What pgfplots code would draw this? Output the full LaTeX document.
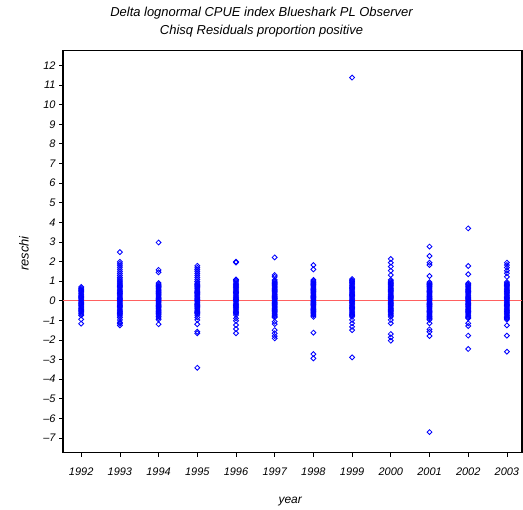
\documentclass[border=0pt]{standalone}
\usepackage{fontspec}
\setmainfont{Liberation Sans}
\usepackage{pgfplots}
\pgfplotsset{compat=1.18}
\definecolor{ptblue}{RGB}{0,0,255}
\definecolor{refred}{RGB}{255,96,96}
\begin{document}
\begin{tikzpicture}
\begin{axis}[
  scale only axis, width=459bp, height=402bp,
  at={(0,0)}, anchor=south west,
  xmin=1991.53, xmax=2003.39, ymin=-7.75, ymax=12.75,
  axis line style={line width=1.2bp},
  tick style={line width=0.7bp, black},
  tick align=outside, major tick length=4bp,
  xtick pos=lower, ytick pos=left,
  xtick={1992,1993,1994,1995,1996,1997,1998,1999,2000,2001,2002,2003},
  xticklabels={1992,1993,1994,1995,1996,1997,1998,1999,2000,2001,2002,2003},
  ytick={-7,-6,-5,-4,-3,-2,-1,0,1,2,3,4,5,6,7,8,9,10,11,12},
  yticklabels={–7,–6,–5,–4,–3,–2,–1,0,1,2,3,4,5,6,7,8,9,10,11,12},
  ticklabel style={font=\fontsize{11}{13}\selectfont\itshape},
  xticklabel style={yshift=-8bp},
  xlabel={year}, ylabel={reschi},
  xlabel style={font=\fontsize{12}{14}\selectfont\itshape, at={(axis description cs:0.495,-0.122)}, anchor=center},
  ylabel style={font=\fontsize{13}{15}\selectfont\itshape, at={(axis description cs:-0.085,0.495)}, anchor=center},
  clip=false,
]
\addplot[refred, line width=1bp, no marks] coordinates {(1991.53,0) (2003.39,0)};
\addplot[only marks, mark=square, mark size=1.75pt, mark options={rotate=45, ptblue, line width=0.85bp, fill=none}] coordinates {
(1992,0.70)(1992,0.64)(1992,0.58)(1992,0.52)(1992,0.46)(1992,0.40)(1992,0.34)(1992,0.28)(1992,0.22)(1992,0.16)(1992,0.10)(1992,0.04)(1992,-0.02)(1992,-0.08)(1992,-0.14)(1992,-0.20)(1992,-0.26)(1992,-0.32)(1992,-0.38)(1992,-0.44)(1992,-0.50)(1992,-0.56)(1992,-0.62)(1992,-0.68)(1992,-0.75)(1992,-0.95)(1992,-1.17)
(1993,2.48)(1993,1.98)(1993,1.88)(1993,1.78)(1993,1.68)(1993,1.58)(1993,1.48)(1993,1.38)(1993,1.28)(1993,1.18)(1993,1.10)(1993,1.02)(1993,0.96)(1993,0.90)(1993,0.84)(1993,0.78)(1993,0.72)(1993,0.66)(1993,0.60)(1993,0.54)(1993,0.48)(1993,0.42)(1993,0.36)(1993,0.30)(1993,0.24)(1993,0.18)(1993,0.12)(1993,0.06)(1993,0)(1993,-0.06)(1993,-0.12)(1993,-0.18)(1993,-0.24)(1993,-0.30)(1993,-0.36)(1993,-0.42)(1993,-0.48)(1993,-0.54)(1993,-0.60)(1993,-0.66)(1993,-0.72)(1993,-0.78)(1993,-0.86)(1993,-0.98)(1993,-1.10)(1993,-1.17)(1993,-1.26)
(1994,2.97)(1994,1.57)(1994,1.45)(1994,0.90)(1994,0.84)(1994,0.78)(1994,0.72)(1994,0.66)(1994,0.60)(1994,0.54)(1994,0.48)(1994,0.42)(1994,0.36)(1994,0.30)(1994,0.24)(1994,0.18)(1994,0.12)(1994,0.06)(1994,0)(1994,-0.06)(1994,-0.12)(1994,-0.18)(1994,-0.24)(1994,-0.30)(1994,-0.36)(1994,-0.42)(1994,-0.48)(1994,-0.54)(1994,-0.60)(1994,-0.66)(1994,-0.72)(1994,-0.80)(1994,-0.88)(1994,-0.96)(1994,-1.20)
(1995,1.78)(1995,1.68)(1995,1.58)(1995,1.48)(1995,1.38)(1995,1.28)(1995,1.18)(1995,1.08)(1995,0.98)(1995,0.90)(1995,0.84)(1995,0.78)(1995,0.72)(1995,0.66)(1995,0.60)(1995,0.54)(1995,0.48)(1995,0.42)(1995,0.36)(1995,0.30)(1995,0.24)(1995,0.18)(1995,0.12)(1995,0.06)(1995,0)(1995,-0.06)(1995,-0.12)(1995,-0.18)(1995,-0.24)(1995,-0.30)(1995,-0.36)(1995,-0.42)(1995,-0.48)(1995,-0.54)(1995,-0.60)(1995,-0.66)(1995,-0.73)(1995,-0.85)(1995,-0.98)(1995,-1.20)(1995,-1.58)(1995,-1.66)(1995,-3.42)
(1996,1.99)(1996,1.95)(1996,1.08)(1996,1.02)(1996,0.96)(1996,0.90)(1996,0.84)(1996,0.78)(1996,0.72)(1996,0.66)(1996,0.60)(1996,0.54)(1996,0.48)(1996,0.42)(1996,0.36)(1996,0.30)(1996,0.24)(1996,0.18)(1996,0.12)(1996,0.06)(1996,0)(1996,-0.06)(1996,-0.12)(1996,-0.18)(1996,-0.24)(1996,-0.30)(1996,-0.36)(1996,-0.42)(1996,-0.48)(1996,-0.54)(1996,-0.60)(1996,-0.66)(1996,-0.73)(1996,-0.90)(1996,-1.02)(1996,-1.24)(1996,-1.44)(1996,-1.66)
(1997,2.21)(1997,1.31)(1997,1.22)(1997,1.06)(1997,1.00)(1997,0.94)(1997,0.88)(1997,0.82)(1997,0.76)(1997,0.70)(1997,0.64)(1997,0.58)(1997,0.52)(1997,0.46)(1997,0.40)(1997,0.34)(1997,0.28)(1997,0.22)(1997,0.16)(1997,0.10)(1997,0.04)(1997,-0.02)(1997,-0.08)(1997,-0.14)(1997,-0.20)(1997,-0.26)(1997,-0.32)(1997,-0.38)(1997,-0.44)(1997,-0.50)(1997,-0.56)(1997,-0.62)(1997,-0.68)(1997,-0.74)(1997,-0.80)(1997,-0.85)(1997,-1.07)(1997,-1.19)(1997,-1.50)(1997,-1.66)(1997,-1.80)(1997,-1.92)
(1998,1.82)(1998,1.60)(1998,1.06)(1998,1.00)(1998,0.94)(1998,0.88)(1998,0.82)(1998,0.76)(1998,0.70)(1998,0.64)(1998,0.58)(1998,0.52)(1998,0.46)(1998,0.40)(1998,0.34)(1998,0.28)(1998,0.22)(1998,0.16)(1998,0.10)(1998,0.04)(1998,-0.02)(1998,-0.08)(1998,-0.14)(1998,-0.20)(1998,-0.26)(1998,-0.32)(1998,-0.38)(1998,-0.44)(1998,-0.50)(1998,-0.56)(1998,-0.62)(1998,-0.68)(1998,-0.74)(1998,-0.82)(1998,-1.63)(1998,-2.72)(1998,-2.94)
(1999,11.38)(1999,1.10)(1999,1.04)(1999,0.98)(1999,0.92)(1999,0.86)(1999,0.80)(1999,0.74)(1999,0.68)(1999,0.62)(1999,0.56)(1999,0.50)(1999,0.44)(1999,0.38)(1999,0.32)(1999,0.26)(1999,0.20)(1999,0.14)(1999,0.08)(1999,0.02)(1999,-0.04)(1999,-0.10)(1999,-0.16)(1999,-0.22)(1999,-0.28)(1999,-0.34)(1999,-0.40)(1999,-0.46)(1999,-0.52)(1999,-0.58)(1999,-0.64)(1999,-0.70)(1999,-0.76)(1999,-0.82)(1999,-0.98)(1999,-1.15)(1999,-1.33)(1999,-1.50)(1999,-2.89)
(2000,2.13)(2000,1.94)(2000,1.74)(2000,1.53)(2000,1.31)(2000,1.06)(2000,1.00)(2000,0.94)(2000,0.88)(2000,0.82)(2000,0.76)(2000,0.70)(2000,0.64)(2000,0.58)(2000,0.52)(2000,0.46)(2000,0.40)(2000,0.34)(2000,0.28)(2000,0.22)(2000,0.16)(2000,0.10)(2000,0.04)(2000,-0.02)(2000,-0.08)(2000,-0.14)(2000,-0.20)(2000,-0.26)(2000,-0.32)(2000,-0.38)(2000,-0.44)(2000,-0.50)(2000,-0.56)(2000,-0.62)(2000,-0.68)(2000,-0.74)(2000,-0.82)(2000,-0.98)(2000,-1.15)(2000,-1.70)(2000,-1.87)(2000,-2.04)
(2001,2.76)(2001,2.28)(2001,1.94)(2001,1.82)(2001,1.26)(2001,0.95)(2001,0.89)(2001,0.83)(2001,0.77)(2001,0.71)(2001,0.65)(2001,0.59)(2001,0.53)(2001,0.47)(2001,0.41)(2001,0.35)(2001,0.29)(2001,0.23)(2001,0.17)(2001,0.11)(2001,0.05)(2001,-0.01)(2001,-0.07)(2001,-0.13)(2001,-0.19)(2001,-0.25)(2001,-0.31)(2001,-0.37)(2001,-0.43)(2001,-0.49)(2001,-0.55)(2001,-0.61)(2001,-0.67)(2001,-0.73)(2001,-0.79)(2001,-0.85)(2001,-0.91)(2001,-0.97)(2001,-1.15)(2001,-1.46)(2001,-1.58)(2001,-1.80)(2001,-6.70)
(2002,3.69)(2002,1.77)(2002,1.35)(2002,0.89)(2002,0.83)(2002,0.77)(2002,0.71)(2002,0.65)(2002,0.59)(2002,0.53)(2002,0.47)(2002,0.41)(2002,0.35)(2002,0.29)(2002,0.23)(2002,0.17)(2002,0.11)(2002,0.05)(2002,-0.01)(2002,-0.07)(2002,-0.13)(2002,-0.19)(2002,-0.25)(2002,-0.31)(2002,-0.37)(2002,-0.43)(2002,-0.49)(2002,-0.55)(2002,-0.61)(2002,-0.67)(2002,-0.73)(2002,-0.79)(2002,-0.85)(2002,-0.90)(2002,-1.15)(2002,-1.29)(2002,-1.78)(2002,-2.46)
(2003,1.94)(2003,1.82)(2003,1.69)(2003,1.53)(2003,1.40)(2003,1.22)(2003,0.95)(2003,0.89)(2003,0.83)(2003,0.77)(2003,0.71)(2003,0.65)(2003,0.59)(2003,0.53)(2003,0.47)(2003,0.41)(2003,0.35)(2003,0.29)(2003,0.23)(2003,0.17)(2003,0.11)(2003,0.05)(2003,-0.01)(2003,-0.07)(2003,-0.13)(2003,-0.19)(2003,-0.25)(2003,-0.31)(2003,-0.37)(2003,-0.43)(2003,-0.49)(2003,-0.55)(2003,-0.61)(2003,-0.67)(2003,-0.73)(2003,-0.79)(2003,-0.85)(2003,-0.91)(2003,-0.97)(2003,-1.26)(2003,-1.78)(2003,-2.60)
};
\end{axis}
\node[font=\fontsize{13}{15}\selectfont\itshape] at (198.5bp,439.7bp) {Delta lognormal CPUE index Blueshark PL Observer};
\node[font=\fontsize{13}{15}\selectfont\itshape] at (198.5bp,421.7bp) {Chisq Residuals proportion positive};
\pgfresetboundingbox
\useasboundingbox (-63bp,-57.3bp) rectangle (460bp,452.7bp);
\end{tikzpicture}
\end{document}
